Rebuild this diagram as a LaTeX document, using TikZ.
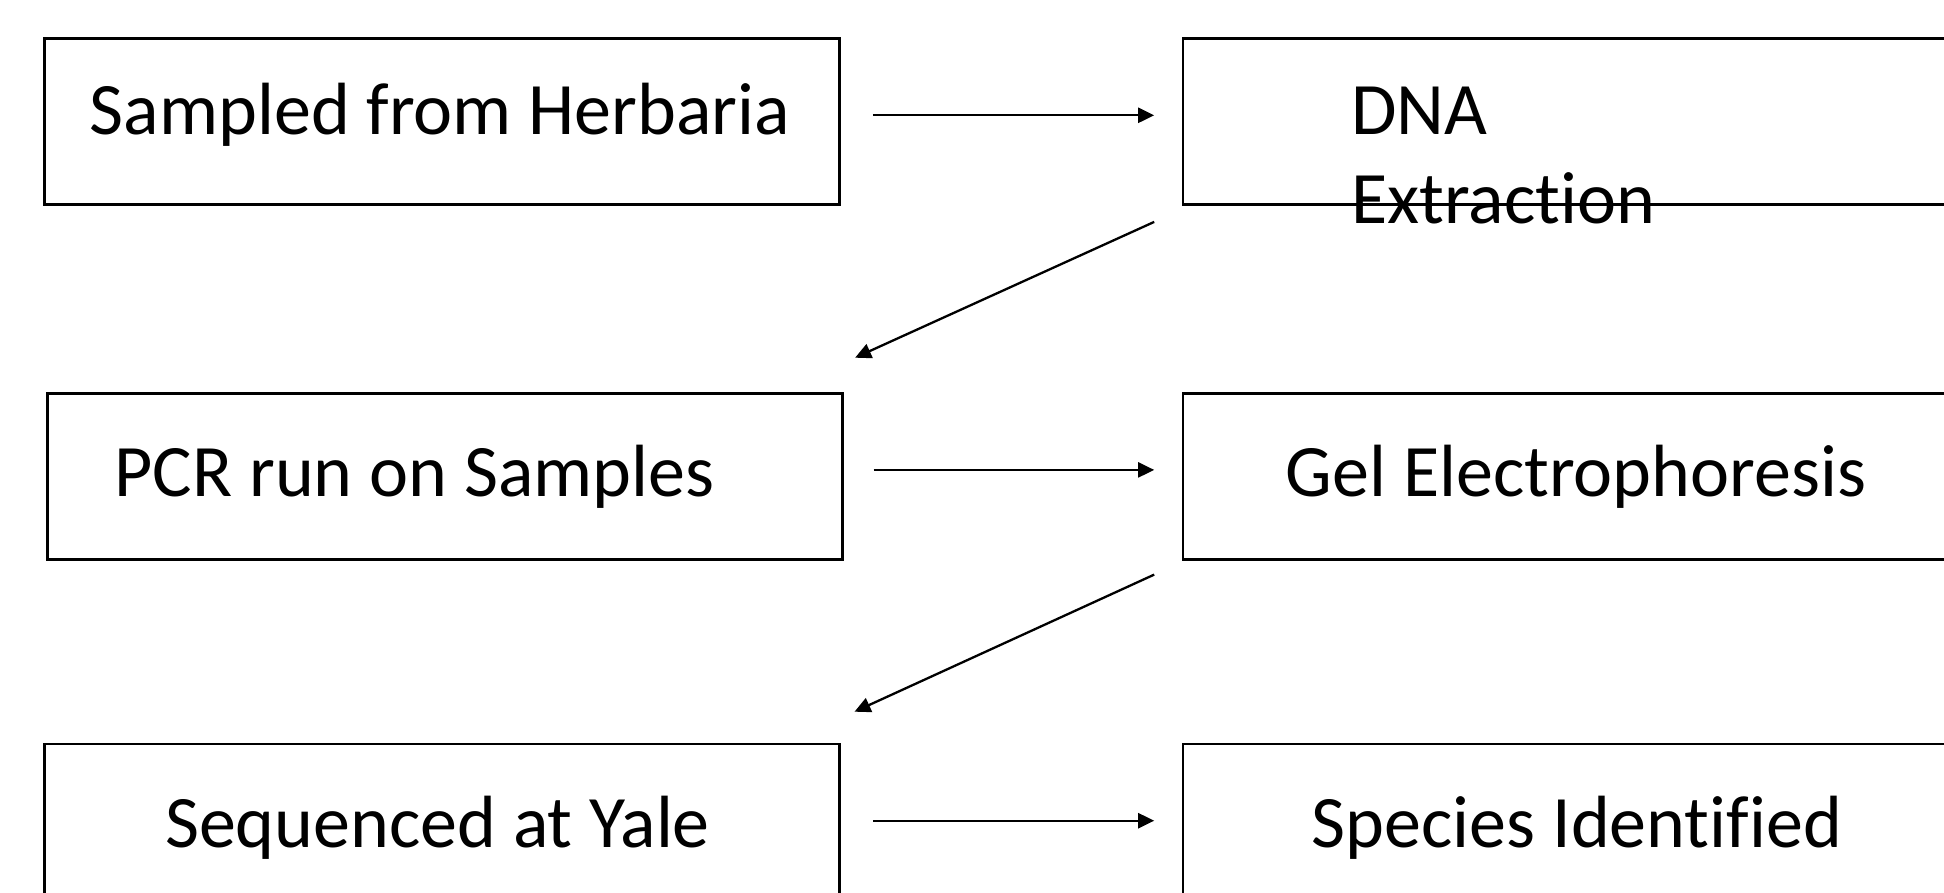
\documentclass[tikz,border=0pt]{standalone}
\usepackage{fontspec}
\setmainfont{Carlito}[RawFeature={-liga}]
\usetikzlibrary{arrows.meta}
\begin{document}
\begin{tikzpicture}[x=1pt,y=-1pt,
  box/.style={draw=black, line width=2.6pt, rectangle, inner sep=0pt, minimum width=795pt, minimum height=166pt},
  lbl/.style={inner sep=0pt, font=\fontsize{74}{89}\selectfont},
  arr/.style={draw=black, line width=2.3pt, -{Triangle[length=16pt,width=15pt]}}]
\path[use as bounding box] (0,0) rectangle (1944,892);
\clip (0,0) rectangle (1944,892);
% boxes
\node[box] (b1) at (442,121.5) {};
\node[box] (b2) at (1580.5,121.5) {};
\node[box] (b3) at (445.1,476.7) {};
\node[box] (b4) at (1580.5,476.7) {};
\node[box] (b5) at (442,827) {};
\node[box] (b6) at (1580.5,827) {};
% labels
\node[lbl, anchor=base] (t1) at (440,134) {Sampled from Herbaria};
\node[lbl, anchor=base west, align=left] (t2) at (1351,223) {DNA\\Extraction};
\node[lbl, anchor=base] (t3) at (414.5,496) {PCR run on Samples};
\node[lbl, anchor=base] (t4) at (1576,496) {Gel Electrophoresis};
\node[lbl, anchor=base] (t5) at (437.5,847) {Sequenced at Yale};
\node[lbl, anchor=base] (t6) at (1577,847) {Species Identified};
% connectors
\draw[arr] ([shift={(32,-6.2)}]b1.east) -- ([shift={(-27.5,-6.2)}]b2.west);
\draw[arr] ([shift={(-27.5,16.1)}]b2.south west) -- ([shift={(11.2,-34.7)}]b3.north east);
\draw[arr] ([shift={(29.8,-6.8)}]b3.east) -- ([shift={(-27.5,-6.8)}]b4.west);
\draw[arr] ([shift={(-27.5,13.6)}]b4.south west) -- ([shift={(13.7,-31)}]b5.north east);
\draw[arr] ([shift={(32.3,-6.3)}]b5.east) -- ([shift={(-27.5,-6.3)}]b6.west);
\end{tikzpicture}
\end{document}
